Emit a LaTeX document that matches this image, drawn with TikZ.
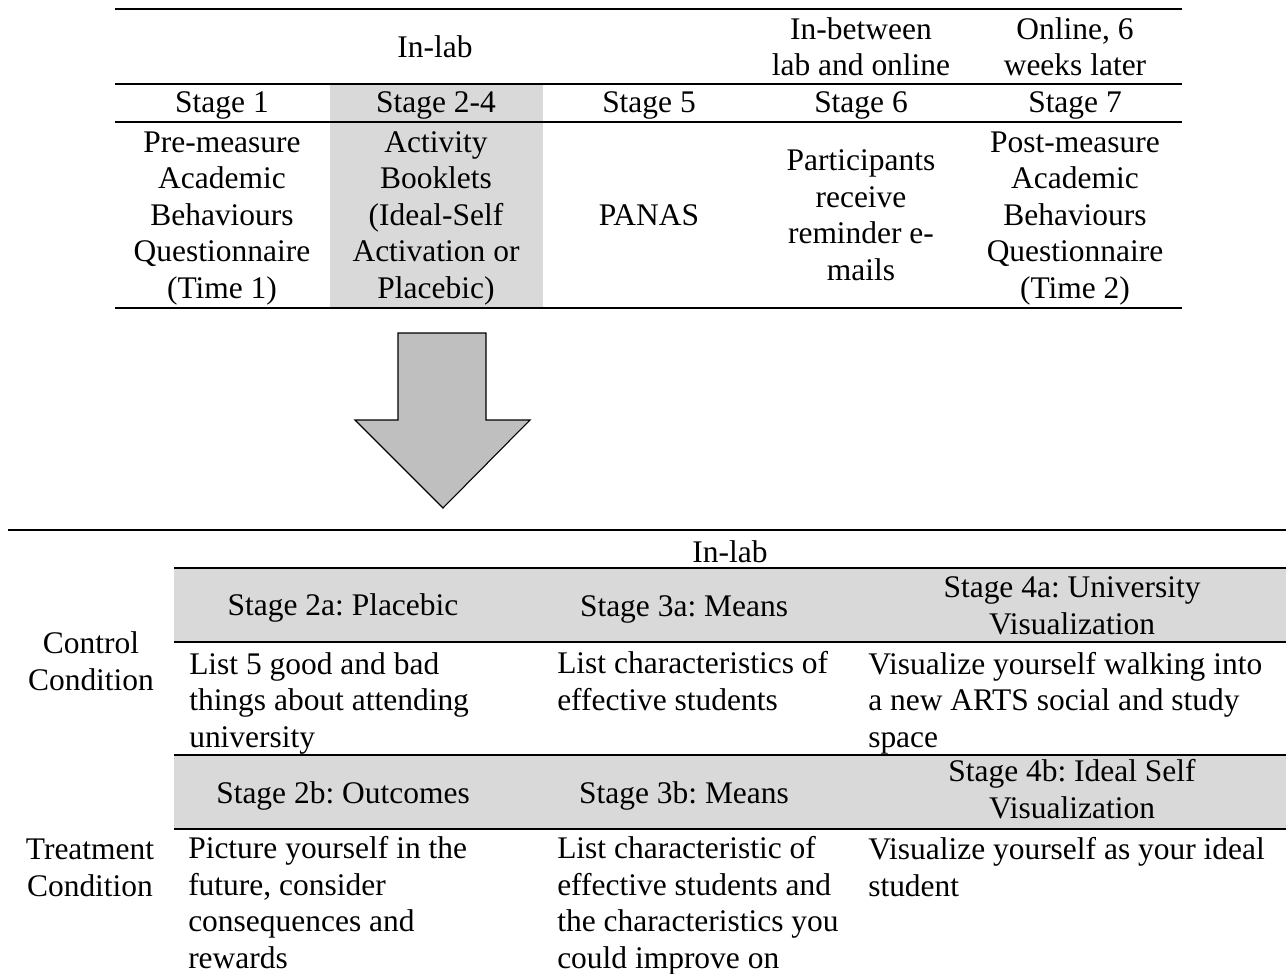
\documentclass[tikz,border=0pt]{standalone}
\usepackage{fontspec}
\setmainfont{Liberation Serif}
\frenchspacing

\begin{document}
\begin{tikzpicture}[x=0.75pt,y=-0.75pt,
    every node/.style={font=\fontsize{23.6pt}{27.3pt}\selectfont, inner sep=0pt},
    cell/.style={anchor=base, align=center},
    txt/.style={anchor=base west, align=left},
    rule/.style={line width=1.7pt},
    thinrule/.style={line width=0.8pt},
    shade/.style={fill=black!15}]
    \useasboundingbox (0,0) rectangle (1286,974);
    % top table (base = last line)
    \fill[shade] (330,84) rectangle (543,308);
    \draw[rule] (115,9) -- (1182,9);
    \draw[rule] (115,84) -- (1182,84);
    \draw[rule] (115,122) -- (1182,122);
    \draw[rule] (115,308) -- (1182,308);
    \node[cell] (lab) at (435,58) {In-lab};
    \node[cell] (between) at (861,76) {In-between\\lab and online};
    \node[cell] (online) at (1075,76) {Online, 6\\weeks later};
    \node[cell] (s1) at (222,113) {Stage 1};
    \node[cell] (s24) at (436,113) {Stage 2-4};
    \node[cell] (s5) at (649,113) {Stage 5};
    \node[cell] (s6) at (861,113) {Stage 6};
    \node[cell] (s7) at (1075,113) {Stage 7};
    \node[cell] (pre) at (222,298) {Pre-measure\\Academic\\Behaviours\\Questionnaire\\(Time 1)};
    \node[cell] (booklet) at (436,298) {Activity\\Booklets\\(Ideal-Self\\Activation or\\Placebic)};
    \node[cell] (panas) at (649,225) {PANAS};
    \node[cell] (remind) at (861,280) {Participants\\receive\\reminder e-\\mails};
    \node[cell] (post) at (1075,298) {Post-measure\\Academic\\Behaviours\\Questionnaire\\(Time 2)};
    % big arrow
    \draw[fill=black!25, line width=0.8pt, line join=miter]
        (398,333) -- (486,333) -- (486,420) -- (530,420) -- (443,508)
        -- (355,420) -- (398,420) -- cycle;
    % bottom table
    \draw[rule] (8,530) -- (1286,530);
    \node[cell] (lab2) at (730,562) {In-lab};
    \fill[shade] (174,568) rectangle (1286,642);
    \draw[rule] (174,568) -- (1286,568);
    \draw[rule] (174,642) -- (1286,642);
    \node[cell] (h2a) at (343,615) {Stage 2a: Placebic};
    \node[cell] (h3a) at (684,616) {Stage 3a: Means};
    \node[cell] (h4a) at (1072,634) {Stage 4a: University\\Visualization};
    \node[cell] (ctrl) at (91,690) {Control\\Condition};
    \node[txt] (b2a) at (189,747) {List 5 good and bad\\things about attending\\university};
    \node[txt] (b3a) at (557,710) {List characteristics of\\effective students};
    \node[txt] (b4a) at (868,747) {Visualize yourself walking into\\a new ARTS social and study\\space};
    \fill[shade] (174,755) rectangle (1286,829);
    \draw[thinrule] (174,755) -- (1286,755);
    \draw[rule] (174,829) -- (1286,829);
    \node[cell] (h2b) at (343,803) {Stage 2b: Outcomes};
    \node[cell] (h3b) at (684,803) {Stage 3b: Means};
    \node[cell] (h4b) at (1072,818) {Stage 4b: Ideal Self\\Visualization};
    \node[cell] (treat) at (90,896) {Treatment\\Condition};
    \node[txt] (b2b) at (188,968) {Picture yourself in the\\future, consider\\consequences and\\rewards};
    \node[txt] (b3b) at (557,968) {List characteristic of\\effective students and\\the characteristics you\\could improve on};
    \node[txt] (b4b) at (868,896) {Visualize yourself as your ideal\\student};
\end{tikzpicture}
\end{document}
